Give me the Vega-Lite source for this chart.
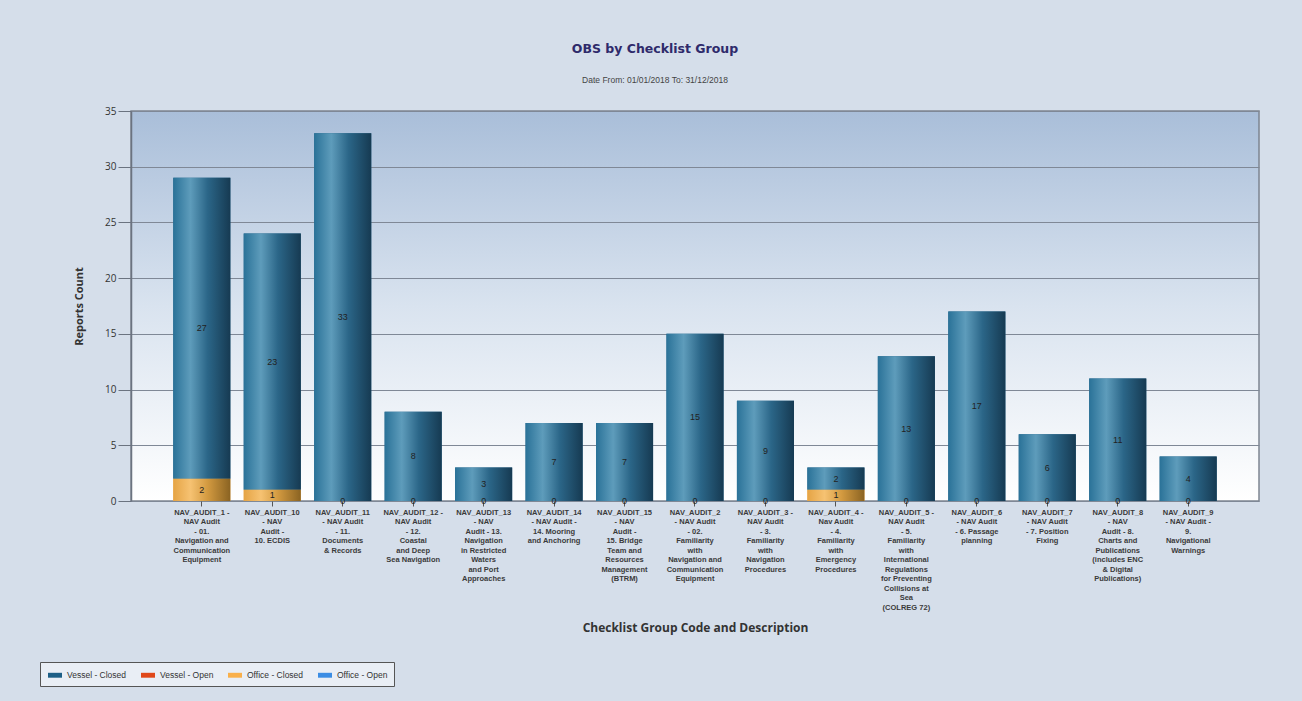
{
  "$schema": "https://vega.github.io/schema/vega-lite/v6.json",
  "width": 1128,
  "height": 390,
  "autosize": {"type": "none"},
  "padding": {"left": 131, "top": 111, "right": 43, "bottom": 200},
  "background": "#d5deea",
  "title": {
    "text": "OBS by Checklist Group",
    "subtitle": "Date From: 01/01/2018  To: 31/12/2018",
    "anchor": "middle",
    "dx": -40,
    "offset": 22,
    "font": "DejaVu Sans",
    "fontSize": 12.5,
    "fontWeight": "bold",
    "color": "#2e2a6b",
    "subtitleFont": "Liberation Sans",
    "subtitleFontSize": 8.5,
    "subtitleColor": "#444444",
    "subtitlePadding": 20
  },
  "config": {
    "view": {
      "stroke": "#7d8591",
      "strokeWidth": 1.5,
      "fill": {
        "gradient": "linear",
        "x1": 0, "y1": 0, "x2": 0, "y2": 1,
        "stops": [
          {"offset": 0, "color": "#a9bed9"},
          {"offset": 0.5, "color": "#d9e3ef"},
          {"offset": 1, "color": "#ffffff"}
        ]
      }
    }
  },
  "data": {
    "values": [
      {"category": "NAV_AUDIT_1 -\nNAV Audit\n- 01.\nNavigation and\nCommunication\nEquipment", "series": "Vessel - Closed", "value": 27},
      {"category": "NAV_AUDIT_1 -\nNAV Audit\n- 01.\nNavigation and\nCommunication\nEquipment", "series": "Office - Closed", "value": 2},
      {"category": "NAV_AUDIT_10\n- NAV\nAudit -\n10. ECDIS", "series": "Vessel - Closed", "value": 23},
      {"category": "NAV_AUDIT_10\n- NAV\nAudit -\n10. ECDIS", "series": "Office - Closed", "value": 1},
      {"category": "NAV_AUDIT_11\n- NAV Audit\n- 11.\nDocuments\n& Records", "series": "Vessel - Closed", "value": 33},
      {"category": "NAV_AUDIT_11\n- NAV Audit\n- 11.\nDocuments\n& Records", "series": "Office - Closed", "value": 0},
      {"category": "NAV_AUDIT_12 -\nNAV Audit\n- 12.\nCoastal\nand Deep\nSea Navigation", "series": "Vessel - Closed", "value": 8},
      {"category": "NAV_AUDIT_12 -\nNAV Audit\n- 12.\nCoastal\nand Deep\nSea Navigation", "series": "Office - Closed", "value": 0},
      {"category": "NAV_AUDIT_13\n- NAV\nAudit - 13.\nNavigation\nin Restricted\nWaters\nand Port\nApproaches", "series": "Vessel - Closed", "value": 3},
      {"category": "NAV_AUDIT_13\n- NAV\nAudit - 13.\nNavigation\nin Restricted\nWaters\nand Port\nApproaches", "series": "Office - Closed", "value": 0},
      {"category": "NAV_AUDIT_14\n- NAV Audit -\n14. Mooring\nand Anchoring", "series": "Vessel - Closed", "value": 7},
      {"category": "NAV_AUDIT_14\n- NAV Audit -\n14. Mooring\nand Anchoring", "series": "Office - Closed", "value": 0},
      {"category": "NAV_AUDIT_15\n- NAV\nAudit -\n15. Bridge\nTeam and\nResources\nManagement\n(BTRM)", "series": "Vessel - Closed", "value": 7},
      {"category": "NAV_AUDIT_15\n- NAV\nAudit -\n15. Bridge\nTeam and\nResources\nManagement\n(BTRM)", "series": "Office - Closed", "value": 0},
      {"category": "NAV_AUDIT_2\n- NAV Audit\n- 02.\nFamiliarity\nwith\nNavigation and\nCommunication\nEquipment", "series": "Vessel - Closed", "value": 15},
      {"category": "NAV_AUDIT_2\n- NAV Audit\n- 02.\nFamiliarity\nwith\nNavigation and\nCommunication\nEquipment", "series": "Office - Closed", "value": 0},
      {"category": "NAV_AUDIT_3 -\nNAV Audit\n- 3.\nFamiliarity\nwith\nNavigation\nProcedures", "series": "Vessel - Closed", "value": 9},
      {"category": "NAV_AUDIT_3 -\nNAV Audit\n- 3.\nFamiliarity\nwith\nNavigation\nProcedures", "series": "Office - Closed", "value": 0},
      {"category": "NAV_AUDIT_4 -\nNav Audit\n- 4.\nFamiliarity\nwith\nEmergency\nProcedures", "series": "Vessel - Closed", "value": 2},
      {"category": "NAV_AUDIT_4 -\nNav Audit\n- 4.\nFamiliarity\nwith\nEmergency\nProcedures", "series": "Office - Closed", "value": 1},
      {"category": "NAV_AUDIT_5 -\nNAV Audit\n- 5.\nFamiliarity\nwith\nInternational\nRegulations\nfor Preventing\nCollisions at\nSea\n(COLREG 72)", "series": "Vessel - Closed", "value": 13},
      {"category": "NAV_AUDIT_5 -\nNAV Audit\n- 5.\nFamiliarity\nwith\nInternational\nRegulations\nfor Preventing\nCollisions at\nSea\n(COLREG 72)", "series": "Office - Closed", "value": 0},
      {"category": "NAV_AUDIT_6\n- NAV Audit\n- 6. Passage\nplanning", "series": "Vessel - Closed", "value": 17},
      {"category": "NAV_AUDIT_6\n- NAV Audit\n- 6. Passage\nplanning", "series": "Office - Closed", "value": 0},
      {"category": "NAV_AUDIT_7\n- NAV Audit\n- 7.  Position\nFixing", "series": "Vessel - Closed", "value": 6},
      {"category": "NAV_AUDIT_7\n- NAV Audit\n- 7.  Position\nFixing", "series": "Office - Closed", "value": 0},
      {"category": "NAV_AUDIT_8\n- NAV\nAudit - 8.\nCharts and\nPublications\n(includes ENC\n& Digital\nPublications)", "series": "Vessel - Closed", "value": 11},
      {"category": "NAV_AUDIT_8\n- NAV\nAudit - 8.\nCharts and\nPublications\n(includes ENC\n& Digital\nPublications)", "series": "Office - Closed", "value": 0},
      {"category": "NAV_AUDIT_9\n- NAV Audit -\n9.\nNavigational\nWarnings", "series": "Vessel - Closed", "value": 4},
      {"category": "NAV_AUDIT_9\n- NAV Audit -\n9.\nNavigational\nWarnings", "series": "Office - Closed", "value": 0}
    ]
  },
  "transform": [
    {"stack": "value", "groupby": ["category"], "sort": [{"field": "value", "order": "ascending"}], "as": ["v0", "v1"]},
    {"calculate": "(datum.v0 + datum.v1) / 2", "as": "vmid"}
  ],
  "encoding": {
    "x": {
      "field": "category",
      "type": "nominal",
      "sort": null,
      "scale": {"paddingInner": 0.19, "paddingOuter": 0.6},
      "axis": {
        "title": "Checklist Group Code and Description",
        "titleFont": "Open Sans",
        "titleFontSize": 12,
        "titleFontWeight": "bold",
        "titleColor": "#333333",
        "titlePadding": 12,
        "labelAngle": 0,
        "labelExpr": "split(datum.label, '\\n')",
        "labelFont": "Liberation Sans",
        "labelFontSize": 7.5,
        "labelFontWeight": "bold",
        "labelColor": "#3a3a3a",
        "labelLineHeight": 9.5,
        "labelLimit": 0,
        "labelPadding": 2,
        "labelBaseline": "top",
        "tickSize": 5,
        "tickColor": "#555555",
        "domain": false
      }
    }
  },
  "layer": [
    {
      "mark": {"type": "bar"},
      "encoding": {
        "y": {
          "field": "v1",
          "type": "quantitative",
          "scale": {"domain": [0, 35]},
          "axis": {
            "title": "Reports Count",
            "titleFont": "Open Sans",
            "titleFontSize": 11,
            "titleFontWeight": "bold",
            "titleColor": "#333333",
            "titlePadding": 20,
            "values": [0, 5, 10, 15, 20, 25, 30, 35],
            "labelFont": "Open Sans",
            "labelFontSize": 10,
            "labelColor": "#333333",
            "tickSize": 13,
            "tickColor": "#6b7380",
            "domainColor": "#6b7380",
            "domainWidth": 1.5,
            "gridColor": "#7f8896",
            "gridWidth": 1
          }
        },
        "y2": {"field": "v0"},
        "color": {
          "field": "series",
          "type": "nominal",
          "scale": {
            "domain": ["Vessel - Closed", "Vessel - Open", "Office - Closed", "Office - Open"],
            "range": ["#1d5f86", "#e0481a", "#f9b04b", "#3b8de4"]
          },
          "legend": {
            "title": null,
            "orient": "none",
            "legendX": -91,
            "legendY": 551,
            "direction": "horizontal",
            "columns": 4,
            "symbolType": "M-1,-0.35H1V0.35H-1Z",
            "symbolSize": 196,
            "symbolStrokeWidth": 0,
            "symbolOffset": 2,
            "labelFont": "Liberation Sans",
            "labelFontSize": 8.5,
            "labelColor": "#333333",
            "labelOffset": 5,
            "columnPadding": 12,
            "padding": 6,
            "strokeColor": "#555555",
            "fillColor": "#e9eef5"
          }
        }
      }
    },
    {
      "transform": [{"filter": "datum.series === 'Vessel - Closed'"}],
      "mark": {
        "type": "bar",
        "fill": {
          "gradient": "linear",
          "x1": 0, "y1": 0, "x2": 1, "y2": 0,
          "stops": [
            {"offset": 0, "color": "#2a7298"},
            {"offset": 0.3, "color": "#5e9cbb"},
            {"offset": 0.6, "color": "#2b6688"},
            {"offset": 1, "color": "#163a52"}
          ]
        }
      },
      "encoding": {
        "y": {"field": "v1", "type": "quantitative"},
        "y2": {"field": "v0"}
      }
    },
    {
      "transform": [{"filter": "datum.series === 'Office - Closed' && datum.value > 0"}],
      "mark": {
        "type": "bar",
        "fill": {
          "gradient": "linear",
          "x1": 0, "y1": 0, "x2": 1, "y2": 0,
          "stops": [
            {"offset": 0, "color": "#e5a445"},
            {"offset": 0.3, "color": "#f6c272"},
            {"offset": 0.6, "color": "#d39a40"},
            {"offset": 1, "color": "#8a6322"}
          ]
        }
      },
      "encoding": {
        "y": {"field": "v1", "type": "quantitative"},
        "y2": {"field": "v0"}
      }
    },
    {
      "mark": {"type": "text", "font": "Liberation Sans", "fontSize": 9, "color": "#222222", "baseline": "middle"},
      "encoding": {
        "y": {"field": "vmid", "type": "quantitative"},
        "text": {"field": "value", "type": "quantitative"}
      }
    }
  ]
}
